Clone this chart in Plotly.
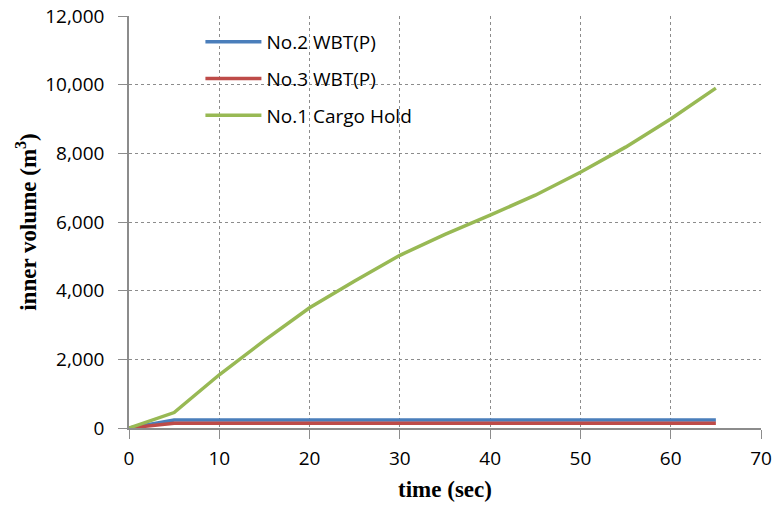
import plotly.graph_objects as go

time = [0, 5, 10, 15, 20, 25, 30, 35, 40, 45, 50, 55, 60, 65]
wbt2 = [0, 230, 230, 230, 230, 230, 230, 230, 230, 230, 230, 230, 230, 230]
wbt3 = [0, 140, 140, 140, 140, 140, 140, 140, 140, 140, 140, 140, 140, 140]
cargo = [0, 450, 1550, 2550, 3500, 4280, 5030, 5640, 6200, 6780, 7450, 8180, 9000, 9900]

fig = go.Figure()
fig.add_trace(go.Scatter(x=time, y=wbt2, mode="lines", name="No.2 WBT(P)", legendgroup="a",
                         line=dict(color="#4A7EBB", width=3.5)))
fig.add_trace(go.Scatter(x=time, y=wbt3, mode="lines", name="No.3 WBT(P)", legendgroup="b",
                         line=dict(color="#BE4B48", width=3.5)))
fig.add_trace(go.Scatter(x=time, y=cargo, mode="lines", name="No.1 Cargo Hold", legendgroup="c",
                         line=dict(color="#98B954", width=3.5)))

fig.update_layout(
    width=776, height=507,
    margin=dict(l=129, r=15, t=16, b=79),
    plot_bgcolor="white", paper_bgcolor="white",
    font=dict(family="Open Sans, Liberation Sans", size=19, color="black"),
    legend=dict(x=0.113, y=0.983, xanchor="left", yanchor="top",
                bgcolor="rgba(255,255,255,0)", font=dict(size=19),
                itemwidth=56, tracegroupgap=9, traceorder="grouped"),
    xaxis=dict(range=[0, 70], dtick=10, showgrid=True, gridcolor="#8c8c8c",
               griddash="dot", gridwidth=1, showline=True, linecolor="#8c8c8c",
               linewidth=1.5, ticks="outside", ticklen=9, tickcolor="#8c8c8c",
               zeroline=False, automargin=False, ticklabelstandoff=3,
               title=dict(text="<b>time (sec)</b>",
                          font=dict(family="Liberation Serif", size=23), standoff=11)),
    yaxis=dict(range=[0, 12000], dtick=2000, tickformat=",", showgrid=True,
               gridcolor="#8c8c8c", griddash="dot", gridwidth=1, showline=True,
               linecolor="#8c8c8c", linewidth=1.5, ticks="outside", ticklen=9,
               tickcolor="#8c8c8c", zeroline=False, automargin=False,
               ticklabelstandoff=10,
               title=dict(text="<b>inner volume (m<sup>3</sup>)</b>",
                          font=dict(family="Liberation Serif", size=23), standoff=2)),
)
fig.write_html("out.html")
